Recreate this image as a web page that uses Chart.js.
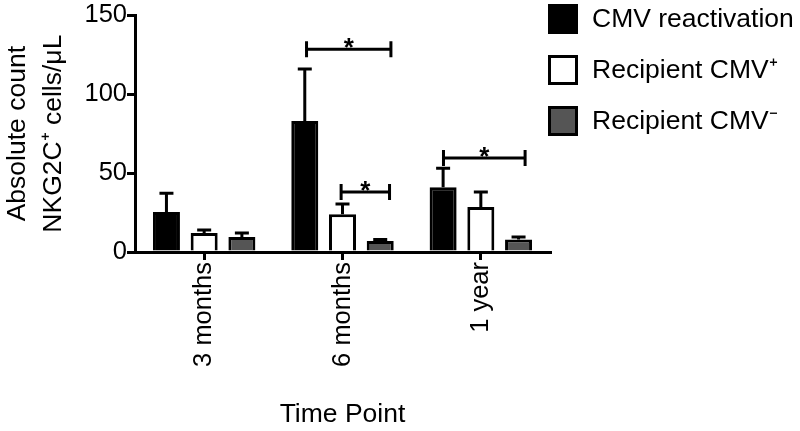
<!DOCTYPE html>
<html>
<head>
<meta charset="utf-8">
<title>NKG2C+ cells</title>
<script src="https://cdn.jsdelivr.net/npm/chart.js@4"></script>
<style>
    body { margin: 0; background: #fff; }
    #wrap { width: 800px; height: 431px; }
</style>
</head>
<body>
<div id="wrap"><canvas id="nkChart"></canvas></div>
<script>
// --- Data ---
const timePoints = ['3 months', '6 months', '1 year'];
const seriesNames = ['CMV reactivation', 'Recipient CMV\u207A', 'Recipient CMV\u207B'];
const cmvReactivation = [25.3, 83, 41];
const cmvReactivationSem = [12, 33, 12];
const recipientPos = [12, 24, 28.5];
const recipientPosSem = [2, 6.4, 9.5];
const recipientNeg = [9.5, 7, 8];
const recipientNegSem = [2.5, 1, 1.5];
const yTicks = [0, 50, 100, 150];

// significance brackets: from/to on the category axis, height in cells/uL
const sigFrom = [0.74, 0.99, 1.73];
const sigTo = [1.35, 1.34, 2.32];
const sigLevel = [128.5, 38, 59.5];

const FONT = "'Liberation Sans', Arial, Helvetica, sans-serif";
const fills = ['#000000', '#ffffff', '#555555'];
const errors = [cmvReactivationSem, recipientPosSem, recipientNegSem];

// --- Plugins ---
const errorBarPlugin = {
    id: 'errorBars',
    afterDatasetsDraw(chart) {
        const ctx = chart.ctx;
        const y = chart.scales.y;
        ctx.save();
        ctx.strokeStyle = '#000';
        ctx.lineWidth = 3;
        chart.data.datasets.forEach((ds, i) => {
            const meta = chart.getDatasetMeta(i);
            meta.data.forEach((bar, j) => {
                const top = y.getPixelForValue(ds.data[j] + errors[i][j]);
                const half = 7;
                ctx.beginPath();
                ctx.moveTo(bar.x, bar.y);
                ctx.lineTo(bar.x, top);
                ctx.moveTo(bar.x - half, top);
                ctx.lineTo(bar.x + half, top);
                ctx.stroke();
            });
        });
        ctx.restore();
    }
};

const sigPlugin = {
    id: 'sigBrackets',
    afterDatasetsDraw(chart) {
        const ctx = chart.ctx;
        const x = chart.scales.x;
        const y = chart.scales.y;
        ctx.save();
        ctx.strokeStyle = '#000';
        ctx.fillStyle = '#000';
        ctx.lineWidth = 3;
        ctx.font = 'bold 26px ' + FONT;
        ctx.textAlign = 'center';
        ctx.textBaseline = 'alphabetic';
        sigLevel.forEach((lvl, k) => {
            const x0 = x.getPixelForValue(sigFrom[k]);
            const x1 = x.getPixelForValue(sigTo[k]);
            const yy = y.getPixelForValue(lvl);
            ctx.beginPath();
            ctx.moveTo(x0, yy);
            ctx.lineTo(x1, yy);
            ctx.moveTo(x0, yy - 8);
            ctx.lineTo(x0, yy + 8);
            ctx.moveTo(x1, yy - 8);
            ctx.lineTo(x1, yy + 8);
            ctx.stroke();
            ctx.fillText('*', (x0 + x1) / 2, yy + 7);
        });
        ctx.restore();
    }
};

const sideLegendPlugin = {
    id: 'sideLegend',
    afterDraw(chart) {
        const ctx = chart.ctx;
        ctx.save();
        ctx.font = '26.5px ' + FONT;
        ctx.textAlign = 'left';
        ctx.textBaseline = 'middle';
        chart.data.datasets.forEach((ds, i) => {
            const top = 4 + i * 51;
            ctx.fillStyle = ds.backgroundColor;
            ctx.fillRect(548, top, 30, 30);
            ctx.strokeStyle = '#000';
            ctx.lineWidth = 3;
            ctx.strokeRect(549.5, top + 1.5, 27, 27);
            ctx.fillStyle = '#000';
            ctx.fillText(ds.label, 592, top + 16);
        });
        ctx.restore();
    }
};

// --- Chart ---
function renderChart() {
    const ctx = document.getElementById('nkChart').getContext('2d');
    const seriesData = [cmvReactivation, recipientPos, recipientNeg];

    new Chart(ctx, {
        type: 'bar',
        data: {
            labels: timePoints,
            datasets: seriesData.map((vals, i) => ({
                label: seriesNames[i],
                data: vals,
                backgroundColor: fills[i],
                borderColor: '#000',
                borderWidth: 3,
                categoryPercentage: 0.818,
                barPercentage: 0.716
            }))
        },
        options: {
            responsive: true,
            maintainAspectRatio: false,
            animation: false,
            layout: { padding: { left: 0, top: 15, right: 250, bottom: 0 } },
            plugins: {
                legend: { display: false },
                tooltip: { enabled: false }
            },
            scales: {
                x: {
                    z: 1,
                    afterFit: scale => { scale.height = 179; },
                    grid: {
                        offset: false,
                        drawOnChartArea: false,
                        drawTicks: true,
                        tickLength: 8,
                        color: '#000',
                        lineWidth: 3
                    },
                    border: { display: true, color: '#000', width: 3 },
                    ticks: {
                        color: '#000',
                        font: { family: FONT, size: 25.5 },
                        minRotation: 90,
                        maxRotation: 90,
                        padding: 2
                    },
                    title: {
                        display: true,
                        text: 'Time Point',
                        color: '#000',
                        font: { family: FONT, size: 26.5 },
                        padding: 0
                    }
                },
                y: {
                    min: 0,
                    max: 150,
                    afterFit: scale => { scale.width = 135; },
                    afterBuildTicks: scale => { scale.ticks = yTicks.map(v => ({ value: v })); },
                    grid: {
                        drawOnChartArea: false,
                        drawTicks: true,
                        tickLength: 8,
                        color: '#000',
                        lineWidth: 3
                    },
                    border: { display: true, color: '#000', width: 3 },
                    ticks: {
                        color: '#000',
                        font: { family: FONT, size: 25.5 },
                        padding: 0
                    },
                    title: {
                        display: true,
                        text: ['Absolute count', 'NKG2C\u207A cells/\u03BCL'],
                        color: '#000',
                        font: { family: FONT, size: 26.5, lineHeight: 1.36 },
                        padding: 0
                    }
                }
            }
        },
        plugins: [errorBarPlugin, sigPlugin, sideLegendPlugin]
    });
}

document.addEventListener('DOMContentLoaded', renderChart);
</script>
</body>
</html>
